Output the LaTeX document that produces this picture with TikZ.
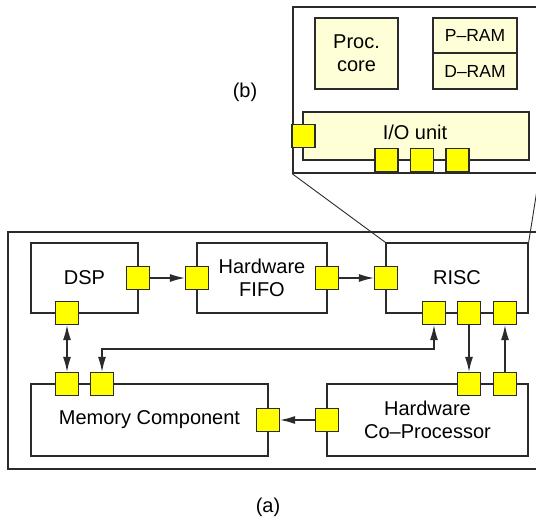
\documentclass[tikz,border=0pt]{standalone}
\usepackage{fontspec}
\setmainfont{Liberation Sans}
\usetikzlibrary{arrows.meta}
\definecolor{edge}{HTML}{2B2B2B}
\definecolor{paleyellow}{RGB}{255,255,215}
\definecolor{portyellow}{RGB}{255,255,0}
\begin{document}
\begin{tikzpicture}[x=1pt,y=-1pt,
  lbl/.style={font=\fontsize{20}{23}\selectfont},
  blk/.style={draw=edge,line width=1.3pt,fill=white,rectangle,inner sep=0pt,align=center,
    font=\fontsize{20}{23}\selectfont},
  pale/.style={blk,fill=paleyellow},
  port/.style={draw=edge,line width=1.3pt,fill=portyellow,rectangle,inner sep=0pt,minimum size=23pt},
  link/.style={draw=edge,line width=1.2pt,-{Latex[length=15pt,width=8pt]}},
  biglink/.style={draw=edge,line width=1.2pt,{Latex[length=15pt,width=8pt]}-{Latex[length=15pt,width=8pt]}},
  zoomline/.style={draw=edge,line width=0.9pt}]
\useasboundingbox (0,0) rectangle (536,521);
\clip (0,0) rectangle (536,521);

% system level (a)
\node[draw=edge,line width=1.8pt,rectangle,inner sep=0pt,minimum width=531pt,minimum height=237pt,anchor=north west]
  (sys) at (7,231) {};
\node[lbl] (labela) at (268,507) {(a)};

% enlarged view of the RISC (b)
\node[draw=edge,line width=1.6pt,fill=white,rectangle,inner sep=0pt,minimum width=246pt,minimum height=166pt,anchor=north west]
  (inset) at (292,6) {};
\node[lbl] (labelb) at (245,92) {(b)};

% processing elements
\node[blk,minimum width=107pt,minimum height=70pt] (dsp) at (84.5,278) {DSP};
\node[blk,minimum width=130pt,minimum height=70pt] (fifo) at (262,278) {Hardware\\FIFO};
\node[blk,minimum width=142pt,minimum height=70pt] (risc) at (457,278) {RISC};
\node[blk,minimum width=237pt,minimum height=72pt] (mem) at (149.5,420) {Memory Component};
\node[blk,minimum width=201pt,minimum height=72pt] (cop) at (427.5,420) {Hardware\\Co\textendash Processor};

% zoom lines from the RISC to its enlarged view
\draw[zoomline] (inset.south west) -- (risc.north west);
\draw[zoomline] (inset.south east) -- (risc.north east);

% internals of the RISC
\node[pale,minimum width=83pt,minimum height=71pt] (proc) at (356.5,53.5) {Proc.\\core};
\node[pale,minimum width=84pt,minimum height=35pt,font=\fontsize{17.5}{20}\selectfont] (pram) at (475,35.5) {P\textendash RAM};
\node[pale,minimum width=84pt,minimum height=36pt,font=\fontsize{17.5}{20}\selectfont] (dram) at (475,71) {D\textendash RAM};
\node[pale,minimum width=226pt,minimum height=48pt,text depth=0pt] (io) at (416,136) {};
\node[lbl] (iotext) at (415,132) {I/O unit};

% ports
\node[port] (ioL)  at (303.5,136) {};
\node[port] (ioB1) at (386.5,160) {};
\node[port] (ioB2) at (422,160) {};
\node[port] (ioB3) at (457.5,160) {};

\node[port] (dspR) at (138,278) {};
\node[port] (dspB) at (67,313) {};
\node[port] (fifoL) at (197,278) {};
\node[port] (fifoR) at (327,278) {};
\node[port] (riscL) at (386,278) {};
\node[port] (riscB1) at (434,313) {};
\node[port] (riscB2) at (469,313) {};
\node[port] (riscB3) at (505,313) {};
\node[port] (memT1) at (67,384) {};
\node[port] (memT2) at (102,384) {};
\node[port] (memR) at (268,420) {};
\node[port] (copL) at (327,420) {};
\node[port] (copT1) at (469,384) {};
\node[port] (copT2) at (505,384) {};

% connections
\draw[link] (dspR) -- (fifoL);
\draw[link] (fifoR) -- (riscL);
\draw[biglink] (dspB) -- (memT1);
\draw[biglink] (riscB1.south) |- (102,349) -- (memT2.north);
\draw[link] (riscB2) -- (copT1);
\draw[link] (copT2) -- (riscB3);
\draw[link] (copL) -- (memR);
\end{tikzpicture}
\end{document}
